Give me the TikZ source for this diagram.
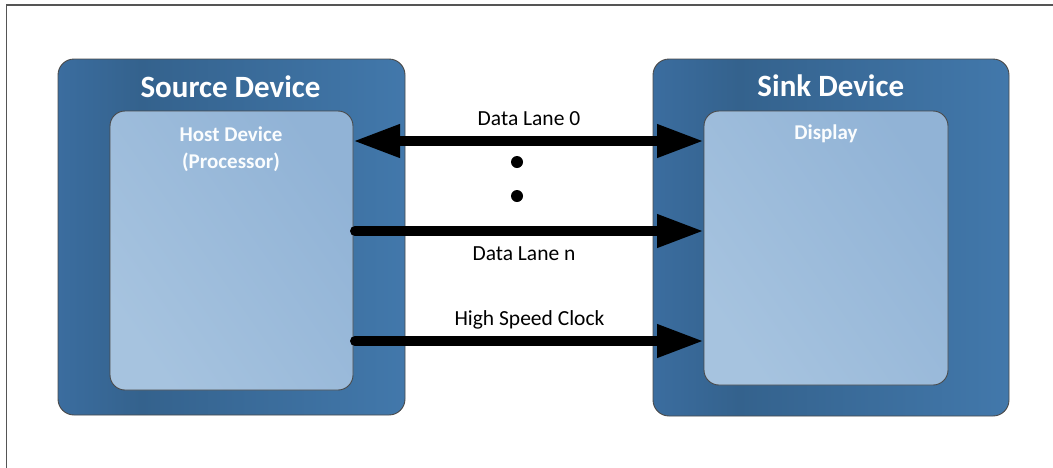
\documentclass[tikz,border=0pt]{standalone}
\usepackage{fontspec}
\setmainfont{Carlito}
\usetikzlibrary{arrows.meta}
\definecolor{oL}{HTML}{3B6D9F}
\definecolor{oD}{HTML}{34628D}
\definecolor{oR}{HTML}{4278AB}
\definecolor{iL}{HTML}{A6C3DF}
\definecolor{iR}{HTML}{91B3D6}
\definecolor{edge}{HTML}{4A4A4A}
\definecolor{frame}{HTML}{555555}
\pgfdeclarehorizontalshading{outershade}{100bp}{color(0bp)=(oL); color(25bp)=(oL); color(37bp)=(oD); color(75bp)=(oR); color(100bp)=(oR)}
\pgfdeclarehorizontalshading{innershade}{100bp}{color(0bp)=(iL); color(25bp)=(iL); color(75bp)=(iR); color(100bp)=(iR)}
\tikzset{
  outerbox/.style={shading=outershade, draw=edge, line width=0.9pt, rounded corners=16pt, inner sep=0pt, outer sep=0pt},
  innerbox/.style={shading=innershade, shading angle=35, draw=edge, line width=0.9pt, rounded corners=15pt, inner sep=0pt, outer sep=0pt},
  title/.style={font=\bfseries\fontsize{31}{36}\selectfont, text=white, anchor=base, inner sep=0pt},
  subtitle/.style={font=\bfseries\fontsize{21}{27}\selectfont, text=white!96!iL, anchor=base, inner sep=0pt, align=center},
  lbl/.style={font=\fontsize{21.5}{26}\selectfont, text=black, anchor=base, inner sep=0pt},
  bus/.style={line width=10pt, black},
  dotnode/.style={circle, fill=black, minimum size=12pt, inner sep=0pt},
}
\begin{document}
\begin{tikzpicture}[x=1pt, y=-1pt]
\useasboundingbox (0,0) rectangle (1053,467);
\fill[white] (0,0) rectangle (1053,467);
\draw[frame, line width=1.5pt] (6.5,475) -- (6.5,4.8) -- (1060,4.8);
% boxes
\node[outerbox, minimum width=347pt, minimum height=356pt] (srcout) at (231.5,237) {};
\node[innerbox, minimum width=243pt, minimum height=279pt] (hostin) at (231.5,250.5) {};
\node[outerbox, minimum width=356pt, minimum height=357pt] (snkout) at (831,237.5) {};
\node[innerbox, minimum width=244pt, minimum height=274pt] (dispin) at (826,248) {};
% titles
\node[title] (srct) at (230.5,97.3) {Source Device};
\node[title] (snkt) at (830.8,96.5) {Sink Device};
\node[subtitle] (hostt) at (231,168) {Host Device\\(Processor)};
\node[subtitle] (dispt) at (826,139.3) {Display};
% lanes
\coordinate (y0) at (0,141);
\coordinate (yn) at (0,231);
\coordinate (yc) at (0,341);
\draw[bus, {Triangle[length=47pt, width=31pt]}-{Triangle[length=47pt, width=31pt]}] (hostin.east |- y0) -- (dispin.west |- y0);
\draw[bus, line cap=round, -{Triangle[length=47pt, width=31pt]}] ([xshift=2pt]hostin.east |- yn) -- (dispin.west |- yn);
\draw[bus, line cap=round, -{Triangle[length=47pt, width=31pt]}] ([xshift=2pt]hostin.east |- yc) -- (dispin.west |- yc);
\node[dotnode] (d1) at (517,162) {};
\node[dotnode] (d2) at (517,196) {};
% labels
\node[lbl] (l0) at (529,125.7) {Data Lane 0};
\node[lbl] (ln) at (524,260.7) {Data Lane n};
\node[lbl] (lc) at (529.5,325) {High Speed Clock};
\end{tikzpicture}
\end{document}
